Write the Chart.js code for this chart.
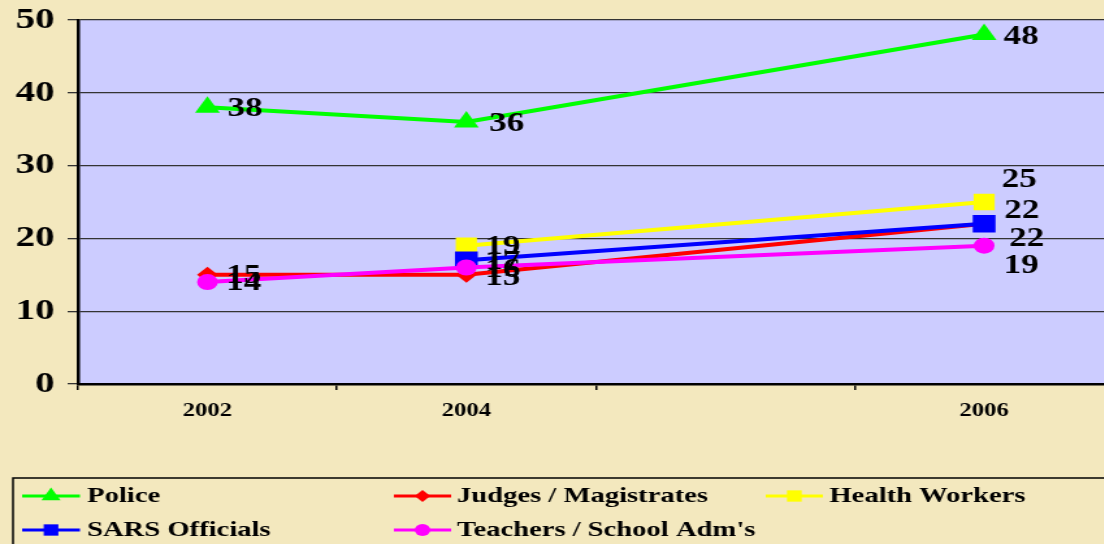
<!DOCTYPE html>
<html>
<head>
<meta charset="utf-8">
<script src="https://cdn.jsdelivr.net/npm/chart.js@4/dist/chart.umd.min.js"></script>
<style>
  html, body { margin: 0; padding: 0; overflow: hidden; background: #f3e8be; }
  #wrap { width: 869px; height: 544px; transform: scaleX(1.3); transform-origin: 0 0; }
</style>
</head>
<body>
<div id="wrap"><canvas id="c" width="869" height="544"></canvas></div>
<script>
const years = ['2002', '2004', '', '2006'];

const police   = [38, 36, null, 48];
const judges   = [15, 15, null, 22];
const health   = [null, 19, null, 25];
const sars     = [null, 17, null, 22];
const teachers = [14, 16, null, 19];

const yTicks = [0, 10, 20, 30, 40, 50];

const serif = "'Liberation Serif', 'Times New Roman', serif";

// fill the plot area lavender
const plotBg = {
    id: 'plotBg',
    beforeDraw(chart) {
        const a = chart.chartArea, ctx = chart.ctx;
        ctx.save();
        ctx.fillStyle = '#ccccff';
        ctx.fillRect(a.left, a.top, a.right - a.left, a.bottom - a.top);
        ctx.restore();
    }
};

// value labels next to each point
const valueLabels = {
    id: 'valueLabels',
    afterDatasetsDraw(chart) {
        const ctx = chart.ctx;
        ctx.save();
        ctx.font = 'bold 27px ' + serif;
        ctx.fillStyle = '#000';
        ctx.textAlign = 'center';
        ctx.textBaseline = 'middle';
        chart.data.datasets.forEach((ds, i) => {
            const meta = chart.getDatasetMeta(i);
            meta.data.forEach((pt, j) => {
                const v = ds.data[j];
                if (v == null) return;
                const off = (ds.labelOffsets && ds.labelOffsets[j]) || [28, 2];
                ctx.fillText(String(v), pt.x + off[0], pt.y + off[1]);
            });
        });
        ctx.restore();
    }
};

// legend box at the bottom, 3 columns
const boxLegend = {
    id: 'boxLegend',
    afterDraw(chart) {
        const ctx = chart.ctx;
        const cols = [[17, 61.5, 67], [303, 347, 351.5], [589, 633, 638]];
        const rows = [496, 530];
        ctx.save();
        ctx.strokeStyle = '#000';
        ctx.lineWidth = 1.5;
        ctx.strokeRect(10, 478, 900, 120);
        ctx.font = 'bold 22px ' + serif;
        ctx.textBaseline = 'middle';
        ctx.textAlign = 'left';
        chart.data.datasets.forEach((ds, i) => {
            const c = cols[i % 3], y = rows[Math.floor(i / 3)];
            ctx.strokeStyle = ds.borderColor;
            ctx.lineWidth = 3;
            ctx.beginPath();
            ctx.moveTo(c[0], y);
            ctx.lineTo(c[1], y);
            ctx.stroke();
            ctx.fillStyle = ds.borderColor;
            Chart.helpers.drawPoint(ctx, {
                pointStyle: ds.pointStyle,
                radius: ds.legendRadius,
                rotation: 0,
                borderWidth: 0
            }, (c[0] + c[1]) / 2, y);
            ctx.fillStyle = '#000';
            ctx.fillText(ds.label, c[2], y);
        });
        ctx.restore();
    }
};

function series(label, data, color, style, radius, legendRadius, order, labelOffsets) {
    return {
        label: label,
        data: data,
        borderColor: color,
        backgroundColor: color,
        pointBackgroundColor: color,
        pointBorderColor: color,
        pointStyle: style,
        pointRadius: radius,
        pointBorderWidth: 0,
        borderWidth: 4,
        spanGaps: true,
        tension: 0,
        order: order,
        legendRadius: legendRadius,
        labelOffsets: labelOffsets
    };
}

new Chart(document.getElementById('c'), {
    type: 'line',
    data: {
        labels: years,
        datasets: [
            series('Police', police, '#00ff00', 'triangle', 11, 8.5, 4,
                [[29, 2], [31, 2], null, [28.5, 2]]),
            series('Judges / Magistrates', judges, '#ff0000', 'rectRot', 8, 6, 3,
                [[28, 1], [28, 3], null, [32.7, 15]]),
            series('Health Workers', health, '#ffff00', 'rect', 11.5, 8, 2,
                [null, [28, 1], null, [27, -21.5]]),
            series('SARS Officials', sars, '#0000ff', 'rect', 12.4, 8, 1,
                [null, [28, 2], null, [29, -13]]),
            series("Teachers / School Adm's", teachers, '#ff00ff', 'circle', 8, 6, 0,
                [[28, 1], [28, 3], null, [28.5, 20]])
        ]
    },
    options: {
        responsive: false,
        animation: false,
        devicePixelRatio: 1,
        layout: { padding: { top: 20, right: 3, bottom: 0, left: 0 } },
        plugins: {
            legend: { display: false },
            tooltip: { enabled: false }
        },
        scales: {
            x: {
                type: 'category',
                offset: true,
                afterFit(scale) { scale.height = 160; },
                grid: { offset: true, drawOnChartArea: false, tickLength: 6, color: '#000', lineWidth: 1.5 },
                border: { color: '#000', width: 2.5 },
                ticks: {
                    autoSkip: false, maxRotation: 0, padding: 10, color: '#000',
                    font: { family: serif, size: 19, weight: 'bold' }
                }
            },
            y: {
                min: 0,
                max: 50,
                afterFit(scale) { scale.width = 60; },
                afterBuildTicks(scale) { scale.ticks = yTicks.map(v => ({ value: v })); },
                grid: { color: '#333', lineWidth: 1.3, tickLength: 8 },
                border: { color: '#000', width: 2.5 },
                ticks: {
                    padding: 10, color: '#000',
                    font: { family: serif, size: 30, weight: 'bold', lineHeight: 0.6 }
                }
            }
        }
    },
    plugins: [plotBg, valueLabels, boxLegend]
});
</script>
</body>
</html>
